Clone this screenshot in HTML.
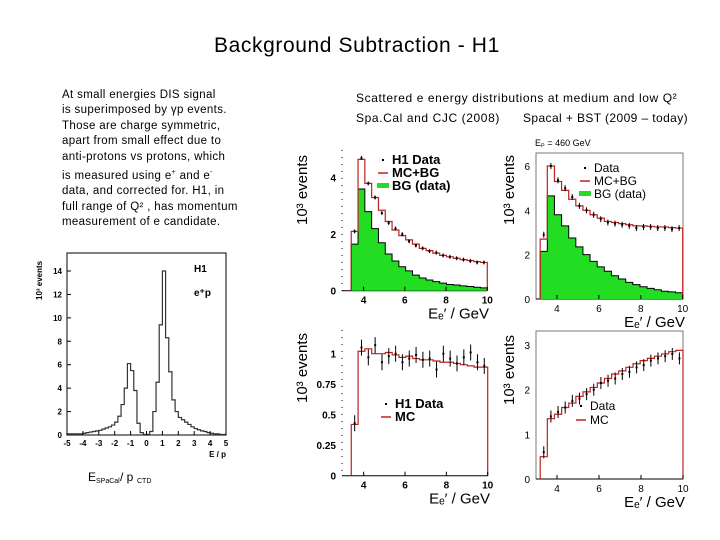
<!DOCTYPE html>
<html><head><meta charset="utf-8"><style>
body{margin:0;width:720px;height:540px;background:#fff;overflow:hidden;font-family:"Liberation Sans",sans-serif}
.t{position:absolute;white-space:nowrap;color:#000}
</style></head><body>
<div class="t" style="left:214px;top:34px;font-size:21px;letter-spacing:0.6px">Background Subtraction - H1</div>
<div class="t" style="left:62px;top:88px;font-size:11.5px;line-height:15.4px;letter-spacing:0.35px">At small energies DIS signal<br>is superimposed by γp events.<br>Those are charge symmetric,<br>apart from small effect due to<br>anti-protons vs protons, which<br>is measured using e<sup style="font-size:7px">+</sup> and e<sup style="font-size:7px">-</sup><br>data, and corrected for. H1, in<br>full range of Q² , has momentum<br>measurement of e candidate.</div>
<div class="t" style="left:356px;top:88px;font-size:12px;line-height:20px;letter-spacing:0.6px">Scattered e energy distributions at medium and low Q²</div>
<div class="t" style="left:356px;top:108px;font-size:12px;line-height:20px;letter-spacing:0.6px">Spa.Cal and CJC (2008)</div>
<div class="t" style="left:523px;top:108px;font-size:12px;line-height:20px;letter-spacing:0.4px">Spacal + BST (2009 – today)</div>
<svg id="s" width="720" height="540" style="position:absolute;left:0;top:0"></svg>
<script>
// E/p histogram, bins of 0.2 from -5 to 5
const epValues=[0.1,0.1,0.1,0.1,0.1,0.15,0.2,0.25,0.3,0.35,0.4,0.5,0.6,0.7,0.85,1.1,1.6,2.6,4.0,6.1,5.5,3.8,1.0,0.2,0.05,0.05,0.3,2.0,4.5,9.4,14.0,8.3,5.4,3.0,2.0,1.5,1.3,1.1,0.9,0.7,0.55,0.45,0.35,0.3,0.2,0.15,0.1,0.1,0.05,0.05];
const epTicksX=[-5,-4,-3,-2,-1,0,1,2,3,4,5];
const epTicksY=[0,2,4,6,8,10,12,14];
// medium Q2 2008 (bins 3.4..10)
const p2MC=[2.1,4.65,3.8,3.3,2.85,2.45,2.15,1.95,1.8,1.65,1.5,1.42,1.33,1.25,1.2,1.15,1.1,1.07,1.03,1.0];
const p2BG=[1.65,3.6,2.8,2.2,1.7,1.3,1.05,0.85,0.7,0.55,0.45,0.38,0.32,0.27,0.22,0.2,0.17,0.15,0.12,0.1];
const p2Data=[2.1,4.7,3.8,3.3,2.75,2.4,2.2,2.0,1.75,1.6,1.5,1.4,1.35,1.25,1.2,1.15,1.1,1.05,1.0,1.0];
// medium Q2 2009 (bins 3.2..10)
const p3MC=[2.7,6.0,5.3,4.9,4.5,4.2,4.0,3.8,3.65,3.5,3.45,3.4,3.35,3.3,3.3,3.28,3.25,3.25,3.22,3.2];
const p3BG=[2.15,4.65,3.8,3.3,2.75,2.35,2.0,1.7,1.45,1.25,1.05,0.9,0.75,0.65,0.55,0.48,0.42,0.35,0.32,0.28];
const p3Data=[2.9,6.0,5.35,5.0,4.6,4.2,4.0,3.8,3.6,3.45,3.4,3.35,3.3,3.2,3.25,3.25,3.2,3.2,3.15,3.2];
// low Q2 2009 (bins 3.2..10)
const p4MC=[0.5,1.35,1.45,1.6,1.7,1.85,1.95,2.05,2.15,2.25,2.35,2.42,2.5,2.58,2.65,2.7,2.75,2.8,2.85,2.88];
const p4Data=[0.6,1.4,1.5,1.6,1.75,1.8,1.9,2.0,2.15,2.2,2.25,2.35,2.4,2.5,2.55,2.65,2.7,2.75,2.8,2.7];
// low Q2 2008 (bins 3.4..10)
const p5MC=[0.42,1.02,1.04,1.0,1.0,1.01,0.99,0.97,0.98,0.96,0.95,0.95,0.94,0.93,0.93,0.92,0.91,0.9,0.89,0.89];
const p5Data=[0.43,1.05,0.97,1.07,0.93,0.98,1.0,0.93,0.96,0.99,0.95,0.96,0.87,1.0,0.96,0.92,0.97,1.01,0.93,0.9];
const eTicks=[4,6,8,10];

const S=document.getElementById('s');const NS='http://www.w3.org/2000/svg';
function el(tag,at,name){const e=document.createElementNS(NS,tag);for(const k in at)e.setAttribute(k,at[k]);


S.appendChild(e);return e;}
function txt(x,y,s,size,name,extra){const e=el('text',Object.assign({x:x,y:y,'font-size':size,'font-family':'Liberation Sans, sans-serif'},extra||{}),name);e.textContent=s;return e;}
function lin(x0,x1,v0,v1,p0,p1){return v=>p0+(v-x0)/(x1-x0)*(p1-p0);}
function histPath(vals,xs,ys,x0,w){let d='M'+xs(x0)+','+ys(0);vals.forEach((v,i)=>{d+='L'+xs(x0+i*w)+','+ys(v)+'L'+xs(x0+(i+1)*w)+','+ys(v);});d+='L'+xs(x0+vals.length*w)+','+ys(0);return d;}

// left E/p chart
{const xs=lin(-5,5,0,0,67,226),ys=lin(0,14,0,0,435,271);
el('rect',{x:67,y:253,width:159,height:182,fill:'none',stroke:'#000','stroke-width':1},'ep-frame');
el('path',{d:histPath(epValues,xs,ys,-5,0.2),fill:'none',stroke:'#333','stroke-width':1.2},'ep-histogram');
epTicksX.forEach(t=>{el('line',{x1:xs(t),x2:xs(t),y1:435,y2:431,stroke:'#000'},'ep-x-tick');txt(xs(t),446,String(t),8,'ep-x-tick-label',{'text-anchor':'middle','font-weight':'bold'});});
epTicksY.forEach(t=>{el('line',{x1:67,x2:71,y1:ys(t),y2:ys(t),stroke:'#000'},'ep-y-tick');txt(62,ys(t)+3,String(t),8,'ep-y-tick-label',{'text-anchor':'end','font-weight':'bold'});});
txt(226,457,'E / p',8,'ep-x-title',{'text-anchor':'end','font-weight':'bold'});
txt(0,0,'10³ events',8,'ep-y-title',{transform:'translate(42,300) rotate(-90)','font-weight':'bold'});
txt(194,272,'H1',10,'ep-h1-label',{'font-weight':'bold'});
txt(194,296,'e⁺p',10,'ep-ep-label',{'font-weight':'bold'});
txt(88,481,'E',12,'ep-caption');txt(96,483,'SPaCal',7,'ep-caption-sub');txt(120,481,'/ p',12,'ep-caption2');txt(137,483,'CTD',7,'ep-caption-sub2');}

function panel(o){
const xs=lin(3,10,0,0,o.x3,o.x10),ys=lin(0,o.ymax,0,0,o.y0,o.yTop);
if(o.frame)el('rect',{x:o.fl,y:o.ft,width:o.fr-o.fl,height:o.y0-o.ft,fill:'none',stroke:'#777','stroke-width':1},o.n+'-frame');
else{el('line',{x1:o.fl,x2:o.fl,y1:o.ft,y2:o.y0,stroke:'#000','stroke-dasharray':'1,6'},o.n+'-y-axis');}
el('line',{x1:o.fl,x2:o.fr,y1:o.y0,y2:o.y0,stroke:'#000'},o.n+'-x-axis');
const w=(10-o.start)/o.mc.length;
if(o.bg)el('path',{d:histPath(o.bg,xs,ys,o.start,w),fill:'#22dd22',stroke:'#000','stroke-width':1},o.n+'-bg');
el('path',{d:histPath(o.mc,xs,ys,o.start,w),fill:'none',stroke:'#b22','stroke-width':1.2},o.n+'-mc');
o.data.forEach((v,i)=>{const cx=xs(o.start+(i+0.5)*w),cy=ys(v);el('rect',{x:cx-1,y:cy-1,width:2,height:2,fill:'#000'},o.n+'-data-point');
el('line',{x1:cx,x2:cx,y1:cy-o.err,y2:cy+o.err,stroke:'#000','stroke-width':1},o.n+'-error-bar');});
eTicks.forEach(t=>{el('line',{x1:xs(t),x2:xs(t),y1:o.y0,y2:o.y0-4,stroke:'#000'},o.n+'-x-tick');txt(xs(t),o.y0+13,String(t),o.fs,o.n+'-x-tick-label',{'text-anchor':'middle','font-weight':o.bold?'bold':'normal'});});
o.yt.forEach((t,i)=>{txt(o.fl-6,ys(t)+4,o.ytl[i],o.fs,o.n+'-y-tick-label',{'text-anchor':'end','font-weight':o.bold?'bold':'normal'});});
txt(o.fr+2,o.y0+28,'Eₑ\u2032 / GeV',o.fs+5,o.n+'-x-title',{'text-anchor':'end'});
txt(0,0,'10³ events',o.fs+5,o.n+'-y-title',{transform:'translate('+o.yx+','+o.ymid+') rotate(-90)','text-anchor':'middle'});
let ly=o.ly;o.leg.forEach((L,i)=>{
if(L[0]=='d')el('rect',{x:o.lx-1,y:ly-5,width:2,height:2,fill:'#000'},o.n+'-legend-marker');
if(L[0]=='m')el('line',{x1:o.lx-5,x2:o.lx+5,y1:ly-4,y2:ly-4,stroke:'#b22','stroke-width':1.5},o.n+'-legend-marker');
if(L[0]=='b')el('rect',{x:o.lx-6,y:ly-7,width:12,height:5,fill:'#22dd22'},o.n+'-legend-marker');
txt(o.lx+9,ly,L[1],o.lfs,o.n+'-legend-entry',{'font-weight':o.bold?'bold':'normal'});ly+=o.lstep;});
}
panel({n:'medq2-2008',x3:343,x10:487.3,y0:290.7,yTop:149.5,ymax:5,fl:342,fr:487,ft:150,start:3.4,mc:p2MC,bg:p2BG,data:p2Data,err:2,yt:[0,2,4],ytl:['0','2','4'],fs:10,bold:true,yx:307,ymid:190,lx:383,ly:164,lstep:13,lfs:13,
leg:[['d','H1 Data'],['m','MC+BG'],['b','BG (data)']]});
panel({n:'medq2-2009',x3:536,x10:682.7,y0:299,yTop:166,ymax:6,fl:536,fr:683,ft:153,frame:true,start:3.2,mc:p3MC,bg:p3BG,data:p3Data,err:3,yt:[0,2,4,6],ytl:['0','2','4','6'],fs:10,bold:false,yx:514,ymid:190,lx:585,ly:172,lstep:13,lfs:12,
leg:[['d','Data'],['m','MC+BG'],['b','BG (data)']]});
panel({n:'lowq2-2008',x3:343,x10:487.7,y0:475.7,yTop:353.7,ymax:1,fl:342,fr:488,ft:330,start:3.4,mc:p5MC,data:p5Data,err:8,yt:[0,0.25,0.5,0.75,1],ytl:['0','0.25','0.5','0.75','1'],fs:10,bold:true,yx:307,ymid:368,lx:386,ly:408,lstep:13,lfs:13,
leg:[['d','H1 Data'],['m','MC']]});
panel({n:'lowq2-2009',x3:536,x10:683,y0:479,yTop:345,ymax:3,fl:536,fr:683,ft:331,frame:true,start:3.2,mc:p4MC,data:p4Data,err:6,yt:[0,1,2,3],ytl:['0','1','2','3'],fs:10,bold:false,yx:514,ymid:370,lx:581,ly:410,lstep:14,lfs:12,
leg:[['d','Data'],['m','MC']]});
txt(535,146,'Eₚ = 460 GeV',9,'beam-energy-label');
</script>
</body></html>
